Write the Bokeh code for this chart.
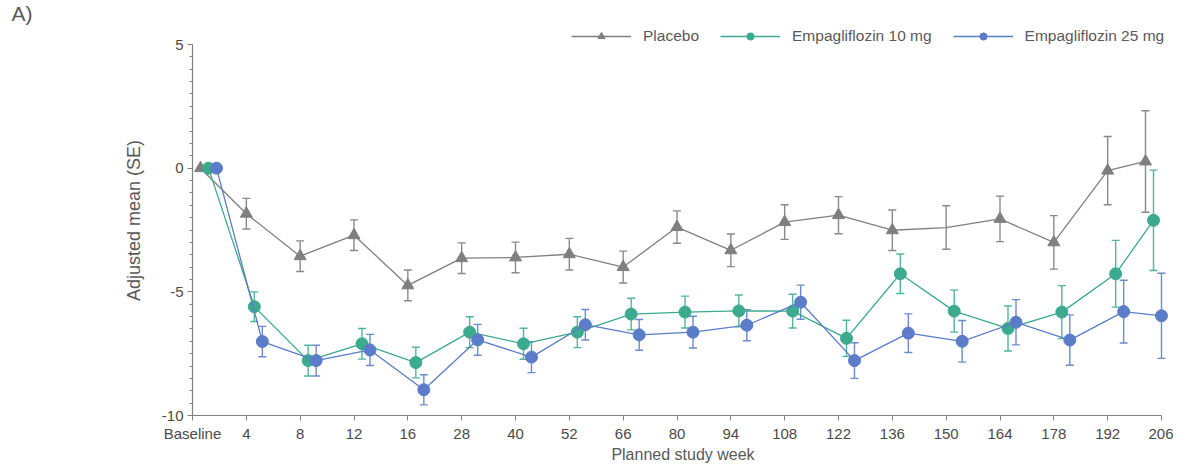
import numpy as np
from bokeh.plotting import figure
from bokeh.models import (ColumnDataSource, Range1d, FixedTicker, SingleIntervalTicker,
                          Whisker, TeeHead, Legend, LegendItem)
from bokeh.embed import file_html
from bokeh.resources import INLINE

# ---------------- data ----------------
weeks = ["Baseline", "4", "8", "12", "16", "28", "40", "52", "66", "80", "94",
         "108", "122", "136", "150", "164", "178", "192", "206"]

placebo_mean = [0, -1.84, -3.56, -2.71, -4.74, -3.64, -3.61, -3.48, -4.00, -2.38,
                -3.32, -2.18, -1.90, -2.51, -2.40, -2.05, -3.00, -0.10, 0.27]
placebo_se = [0, 0.62, 0.62, 0.62, 0.62, 0.62, 0.62, 0.64, 0.645, 0.655,
              0.66, 0.70, 0.75, 0.82, 0.88, 0.92, 1.08, 1.38, 2.05]
placebo_no_marker = ["150"]

empa10_mean = [0, -5.60, -7.78, -7.10, -7.86, -6.63, -7.10, -6.63, -5.90, -5.82,
               -5.77, -5.78, -6.88, -4.27, -5.78, -6.48, -5.82, -4.27, -2.11]
empa10_se = [0, 0.60, 0.62, 0.62, 0.62, 0.625, 0.625, 0.625, 0.64, 0.645,
             0.645, 0.68, 0.73, 0.80, 0.85, 0.91, 1.07, 1.35, 2.03]

empa25_mean = [0, -7.01, -7.78, -7.35, -8.96, -6.94, -7.64, -6.33, -6.74, -6.63,
               -6.35, -5.42, -7.78, -6.67, -7.00, -6.23, -6.95, -5.80, -5.97]
empa25_se = [0, 0.615, 0.62, 0.63, 0.61, 0.625, 0.625, 0.615, 0.62, 0.64,
             0.63, 0.69, 0.72, 0.78, 0.84, 0.915, 1.02, 1.27, 1.72]

series_names = ["Placebo", "Empagliflozin 10 mg", "Empagliflozin 25 mg"]
y_ticks = [-10, -5, 0, 5]

# ---------------- layout / style (figure pixel coordinates) ----------------
W, H = 1173, 458
ML, MT, MB = 192, 24, 44
X_LAST_PX = 1161                  # figure pixel of the last category
FRAME_RIGHT = W
FRAME_W = FRAME_RIGHT - ML
MR = W - FRAME_RIGHT
Y5_PX, YM10_PX = 43, 414          # figure pixels of y=5 and y=-10
FRAME_H = YM10_PX - MT
PXY = (YM10_PX - Y5_PX) / (y_ticks[-1] - y_ticks[0])
Y_END = y_ticks[-1] + (Y5_PX - MT) / PXY

n = len(weeks)
PX = (X_LAST_PX - ML) / (n - 1)          # pixels per category step
X_END = (n - 1) + (FRAME_RIGHT - X_LAST_PX) / PX

FONT = "Liberation Sans"
TXT = "#595959"
AX = "#808080"
colors = ["#7f7f7f", "#3caa8f", "#5b7cc8"]
whisker_colors = ["#8a8a8a", "#50b59c", "#6c8ad0"]
markers = ["triangle", "circle", "circle"]
sizes = [12, 12, 12]

p = figure(frame_width=FRAME_W, frame_height=FRAME_H, output_backend="svg",
           toolbar_location=None,
           x_range=Range1d(0, X_END), y_range=Range1d(y_ticks[0], Y_END),
           min_border_left=ML, min_border_right=MR, min_border_top=MT,
           min_border_bottom=MB, background_fill_color="white",
           border_fill_color="white")
p.outline_line_color = None
p.grid.visible = False

idx = np.arange(n, dtype=float)


def xpos(k):
    shift = np.full(n, 8.0 * k)
    shift[0] += 8.0
    shift[-1] -= 16.0
    return idx + shift / PX


all_means = [placebo_mean, empa10_mean, empa25_mean]
all_se = [placebo_se, empa10_se, empa25_se]
items = []
for k in range(3):
    m = np.array(all_means[k], dtype=float)
    s = np.array(all_se[k], dtype=float)
    x = xpos(k)
    src = ColumnDataSource(dict(x=x, y=m))
    wsrc = ColumnDataSource(dict(x=x[1:], lo=(m - s)[1:], hi=(m + s)[1:]))
    wh = Whisker(source=wsrc, base="x", lower="lo", upper="hi",
                 line_color=whisker_colors[k], line_width=1.4,
                 upper_head=TeeHead(size=8, line_color=whisker_colors[k], line_width=1.4),
                 lower_head=TeeHead(size=8, line_color=whisker_colors[k], line_width=1.4))
    p.add_layout(wh)
    lr = p.line("x", "y", source=src, line_color=colors[k], line_width=1.3)
    if k == 0:
        keep = [i for i, w in enumerate(weeks) if w not in placebo_no_marker]
        msrc = ColumnDataSource(dict(x=x[keep], y=m[keep]))
    else:
        msrc = ColumnDataSource(dict(x=x, y=m))
    sr = p.scatter("x", "y", source=msrc, marker=markers[k], size=sizes[k],
                   fill_color=colors[k], line_color=colors[k])
    items.append(LegendItem(label=series_names[k], renderers=[lr, sr]))

# axes
p.xaxis.ticker = FixedTicker(ticks=list(range(n)), minor_ticks=[])
p.xaxis.bounds = (0, n - 1)
p.xaxis.major_label_overrides = {i: w for i, w in enumerate(weeks)}
p.xaxis.axis_label = "Planned study week"
p.yaxis.ticker = SingleIntervalTicker(interval=5, num_minor_ticks=10)
p.yaxis.bounds = (y_ticks[0], y_ticks[-1])
p.yaxis.major_label_overrides = {t: str(t) for t in y_ticks}
p.yaxis.axis_label = "Adjusted mean (SE)"

for ax in (p.xaxis[0], p.yaxis[0]):
    ax.axis_line_color = AX
    ax.axis_line_width = 1.2
    ax.major_tick_line_color = AX
    ax.minor_tick_line_color = AX
    ax.major_tick_in = 0
    ax.major_tick_out = 5
    ax.minor_tick_in = 0
    ax.minor_tick_out = 3
    ax.major_label_text_font = FONT
    ax.major_label_text_font_size = "15px"
    ax.major_label_text_color = "#4a4a4a"
    ax.axis_label_text_font = FONT
    ax.axis_label_text_color = TXT
    ax.axis_label_text_font_style = "normal"
    ax.major_label_standoff = 4

p.xaxis.axis_label_text_font_size = "16px"
p.xaxis.axis_label_standoff = 1
p.yaxis.axis_label_text_font_size = "18px"
p.yaxis.axis_label_standoff = 15

LEG_H = 18
legend = Legend(items=items, orientation="horizontal",
                location=(571 - ML, YM10_PX - 35 - LEG_H // 2),
                glyph_width=60, glyph_height=LEG_H, label_height=LEG_H,
                label_standoff=12, spacing=21,
                padding=0, margin=0, border_line_color=None,
                background_fill_alpha=0, label_text_font=FONT,
                label_text_font_size="15.5px", label_text_color=TXT)
p.add_layout(legend, "center")

p.title.text = "A)"
p.title.align = "left"
p.title.offset = -(ML - 11)
p.title.standoff = 0
p.title.vertical_align = "middle"
p.title.text_font = FONT
p.title.text_font_size = "21px"
p.title.text_font_style = "normal"
p.title.text_color = TXT

open("out.html", "w").write(file_html(p, INLINE))
